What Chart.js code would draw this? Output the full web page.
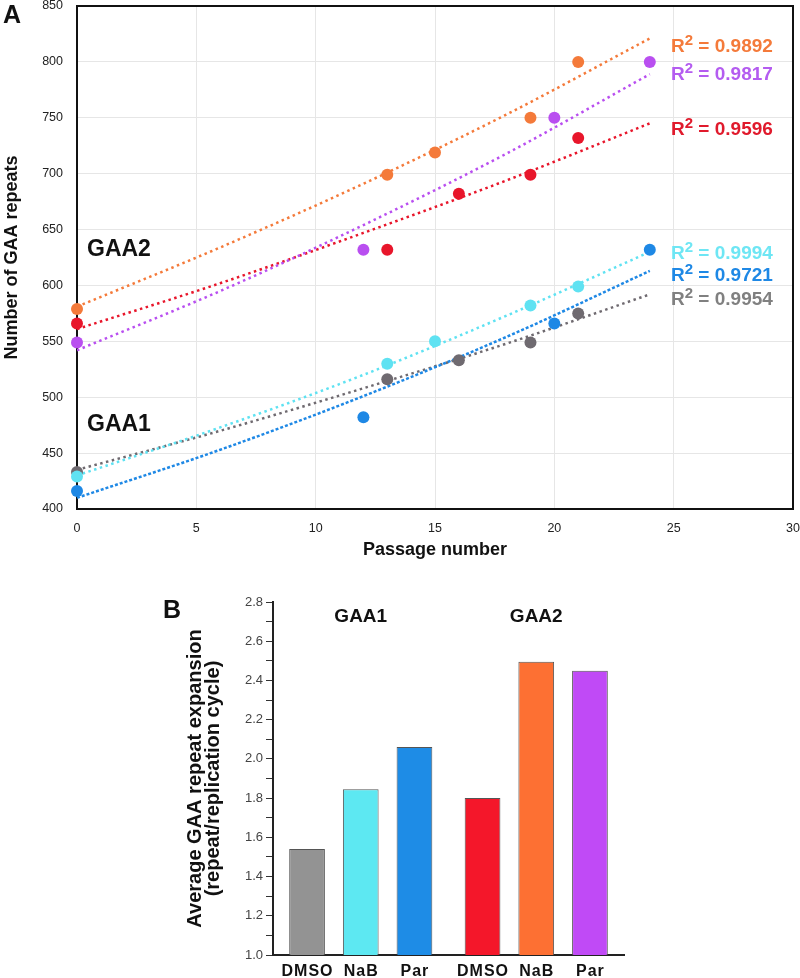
<!DOCTYPE html>
<html>
<head>
<meta charset="utf-8">
<script src="https://cdn.jsdelivr.net/npm/chart.js@4.4.1/dist/chart.umd.min.js"></script>
<style>
body { margin: 0; background: #fff; }
#wrap { position: relative; width: 800px; height: 978px; }
#chartA { position: absolute; left: 0; top: 0; }
#chartB { position: absolute; left: 0; top: 565px; }
</style>
</head>
<body>
<div id="wrap">
	<canvas id="chartA" width="800" height="565"></canvas>
	<canvas id="chartB" width="800" height="413"></canvas>
</div>
<script>
/* A : GAA repeats vs passage */
const gaa2NabX = [0, 13, 15, 19, 21];
const gaa2NabY = [579, 699, 719, 750, 800];
const gaa2ParX = [0, 12, 20, 24];
const gaa2ParY = [549, 632, 750, 800];
const gaa2DmsoX = [0, 13, 16, 19, 21];
const gaa2DmsoY = [566, 632, 682, 699, 732];
const gaa1NabX = [0, 13, 15, 19, 21];
const gaa1NabY = [429, 530, 550, 582, 599];
const gaa1ParX = [0, 12, 20, 24];
const gaa1ParY = [416, 482, 566, 632];
const gaa1DmsoX = [0, 13, 16, 19, 21];
const gaa1DmsoY = [433, 516, 533, 549, 575];

// trend lines at these passages
const trendX = [0, 6, 12, 18, 24];
const trendGaa2Nab = [581, 634, 691, 753, 821];
const trendGaa2Par = [542, 595, 654, 718, 789];
const trendGaa2Dmso = [561, 602, 647, 694, 745];
const trendGaa1Nab = [430, 473, 520, 573, 630];
const trendGaa1Par = [410, 453, 501, 554, 613];
const trendGaa1Dmso = [435, 470, 508, 548, 592];

const r2Values = ["0.9892", "0.9817", "0.9596", "0.9994", "0.9721", "0.9954"];
const r2LabelY = [815, 790, 741, 630, 610, 589];

const xTickMin = 0, xTickMax = 30, xTickStep = 5;
const yTickMin = 400, yTickMax = 850, yTickStep = 50;

/* B : average expansion rate */
const groups = ["GAA1", "GAA2"];
const treatments = ["DMSO", "NaB", "Par"];
const dmsoRate = [1.54, 1.80];
const nabRate = [1.845, 2.495];
const parRate = [2.06, 2.45];

const FONT = '"Liberation Sans", Arial, sans-serif';

function xy(xs, ys) {
	return xs.map(function(x, i) { return { x: x, y: ys[i] }; });
}

let seriesA = [
	{ x: gaa2NabX, y: gaa2NabY, trend: trendGaa2Nab, color: "#f47a3a", text: "#f47a3a" },
	{ x: gaa2ParX, y: gaa2ParY, trend: trendGaa2Par, color: "#b94ff0", text: "#b45cf0" },
	{ x: gaa2DmsoX, y: gaa2DmsoY, trend: trendGaa2Dmso, color: "#e8162b", text: "#e01a2c" },
	{ x: gaa1NabX, y: gaa1NabY, trend: trendGaa1Nab, color: "#5fe2f2", text: "#6ee6f4" },
	{ x: gaa1ParX, y: gaa1ParY, trend: trendGaa1Par, color: "#1e88e5", text: "#1e88e5", dash: [3, 2] },
	{ x: gaa1DmsoX, y: gaa1DmsoY, trend: trendGaa1Dmso, color: "#6f6a70", text: "#808080" }
];

let datasetsA = [];
seriesA.forEach(function(s) {
	datasetsA.push({
		data: xy(trendX, s.trend),
		showLine: true,
		pointRadius: 0,
		borderColor: s.color,
		borderWidth: 2.5,
		borderDash: s.dash || [2.5, 3.5],
		cubicInterpolationMode: "monotone",
		order: 1
	});
	datasetsA.push({
		data: xy(s.x, s.y),
		showLine: false,
		clip: false,
		pointRadius: 6,
		pointHoverRadius: 6,
		pointBorderWidth: 0,
		pointBackgroundColor: s.color,
		order: 0
	});
});

// frame + text labels of panel A
const panelA = {
	id: "panelA",
	beforeDatasetsDraw(chart) {
		const { ctx, chartArea: a } = chart;
		ctx.save();
		ctx.strokeStyle = "#111";
		ctx.lineWidth = 2;
		ctx.strokeRect(a.left, a.top, a.right - a.left, a.bottom - a.top);
		ctx.restore();
	},
	afterDraw(chart) {
		const { ctx, scales: { y } } = chart;
		ctx.save();
		ctx.fillStyle = "#111";
		ctx.textBaseline = "alphabetic";
		ctx.font = "bold 25px " + FONT;
		ctx.fillText("A", 3, 23);
		ctx.font = "bold 23px " + FONT;
		ctx.fillText("GAA2", 87, 256);
		ctx.fillText("GAA1", 87, 431);

		seriesA.forEach(function(s, i) {
			let px = 671;
			let py = y.getPixelForValue(r2LabelY[i]) + 7;
			ctx.fillStyle = s.text;
			ctx.font = "bold 19px " + FONT;
			ctx.fillText("R", px, py);
			px += ctx.measureText("R").width;
			ctx.font = "bold 15px " + FONT;
			ctx.fillText("2", px, py - 7);
			px += ctx.measureText("2").width;
			ctx.font = "bold 19px " + FONT;
			ctx.fillText(" = " + r2Values[i], px, py);
		});
		ctx.restore();
	}
};

new Chart(document.getElementById("chartA"), {
	type: "scatter",
	data: { datasets: datasetsA },
	options: {
		responsive: false,
		animation: false,
		layout: { padding: { left: 0, top: 5, right: 7, bottom: 0 } },
		plugins: { legend: { display: false }, tooltip: { enabled: false } },
		scales: {
			x: {
				type: "linear",
				min: xTickMin, max: xTickMax,
				ticks: { stepSize: xTickStep, padding: 12, color: "#222", font: { family: FONT, size: 12.5 }, maxRotation: 0 },
				grid: { color: "#e6e6e6", drawTicks: false },
				border: { display: false },
				title: { display: true, text: "Passage number", color: "#111", font: { family: FONT, size: 18, weight: "bold" }, padding: { top: 0, bottom: 4 } },
				afterFit(scale) { scale.height = 56; scale.paddingLeft = 0; scale.paddingRight = 0; }
			},
			y: {
				type: "linear",
				min: yTickMin, max: yTickMax,
				ticks: { stepSize: yTickStep, padding: 14, color: "#222", font: { family: FONT, size: 12.5 } },
				grid: { color: "#e6e6e6", drawTicks: false },
				border: { display: false },
				title: { display: true, text: "Number of GAA repeats", color: "#111", font: { family: FONT, size: 18, weight: "bold" }, padding: { top: 1, bottom: 0 } },
				afterFit(scale) { scale.width = 77; scale.paddingTop = 0; scale.paddingBottom = 0; }
			}
		}
	},
	plugins: [panelA]
});

/* 막대 그래프 */
const barFill = [["#939393", "#f4172a"], ["#5de8f2", "#fd7033"], ["#1e8ce6", "#c04af6"]];
const barRates = [dmsoRate, nabRate, parRate];

const panelB = {
	id: "panelB",
	afterDraw(chart) {
		const { ctx, scales: { x } } = chart;
		ctx.save();
		ctx.fillStyle = "#111";
		ctx.font = "bold 25px " + FONT;
		ctx.textAlign = "left";
		ctx.fillText("B", 163, 53);

		ctx.textAlign = "center";
		ctx.font = "bold 19px " + FONT;
		groups.forEach(function(g, i) {
			ctx.fillText(g, x.getPixelForValue(i), 57);
		});

		ctx.font = "bold 16px " + FONT;
		ctx.letterSpacing = "1px";
		ctx.textBaseline = "middle";
		treatments.forEach(function(t, d) {
			chart.getDatasetMeta(d).data.forEach(function(bar) {
				ctx.fillText(t, bar.x + 0.5, 407);
			});
		});
		ctx.restore();
	}
};

new Chart(document.getElementById("chartB"), {
	type: "bar",
	data: {
		labels: groups,
		datasets: treatments.map(function(t, i) {
			return {
				label: t,
				data: barRates[i],
				backgroundColor: barFill[i],
				borderColor: "#555",
				borderWidth: 1,
				borderSkipped: "bottom",
				categoryPercentage: 0.918,
				barPercentage: 0.665
			};
		})
	},
	options: {
		responsive: false,
		animation: false,
		layout: { padding: { left: 0, top: 37, right: 176, bottom: 0 } },
		plugins: { legend: { display: false }, tooltip: { enabled: false } },
		scales: {
			x: {
				grid: { display: false },
				border: { color: "#222", width: 2 },
				ticks: { display: false },
				afterFit(scale) { scale.height = 23; }
			},
			y: {
				min: 1.0, max: 2.8,
				ticks: {
					stepSize: 0.1,
					autoSkip: false,
					padding: 3,
					color: "#444",
					font: { family: FONT, size: 13 },
					callback: function(v) { return Math.round(v * 10) % 2 === 0 ? v.toFixed(1) : ""; }
				},
				grid: { drawOnChartArea: false, tickLength: 7, color: "#333" },
				border: { color: "#222", width: 2 },
				title: {
					display: true,
					text: ["Average GAA repeat expansion", "(repeat/replication cycle)"],
					color: "#111",
					font: { family: FONT, size: 20, weight: "bold", lineHeight: "18px" },
					padding: { top: 186, bottom: 0 }
				},
				afterFit(scale) { scale.width = 273; scale.paddingTop = 0; scale.paddingBottom = 0; }
			}
		}
	},
	plugins: [panelB]
});
</script>
</body>
</html>
